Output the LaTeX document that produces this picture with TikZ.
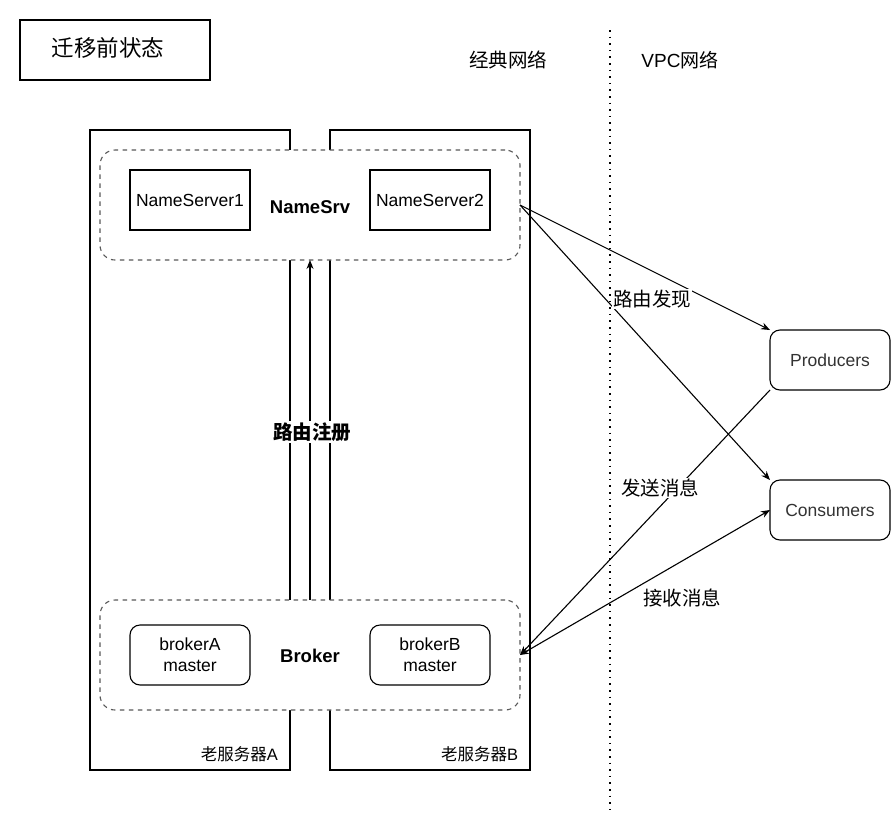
\documentclass[tikz,border=0pt]{standalone}
\usepackage{fontspec}
\setmainfont{Liberation Sans}
\newfontfamily\cjk{Noto Sans CJK SC}
\usetikzlibrary{arrows.meta}
\begin{document}
\begin{tikzpicture}[x=1pt,y=-1pt,
  line width=1.1pt,
  every node/.style={inner sep=0pt,outer sep=0pt},
  body/.style={font=\fontsize{17.5}{21}\selectfont},
  cjklab/.style={font=\cjk\fontsize{19.5}{23}\selectfont},
  server/.style={draw,fill=white},
  grp/.style={draw=black!65,dashed,dash pattern=on 4.5pt off 4.5pt,rounded corners=15pt,fill=white,minimum width=420pt,minimum height=110pt},
  box/.style={draw,fill=white,minimum width=120pt,minimum height=60pt,align=center,body},
  rbox/.style={box,rounded corners=10pt},
  arr/.style={-{Stealth[length=9pt,width=7pt]}},
  darr/.style={{Stealth[length=9pt,width=7pt]}-{Stealth[length=9pt,width=7pt]}}
]
\useasboundingbox (0,0) rectangle (891,814);
% title
\draw (20,20) rectangle (210,80);
\node[font=\cjk\fontsize{22.5}{26}\selectfont] (title) at (108,48) {迁移前状态};
\node[cjklab] (classic) at (508,60) {经典网络};
\node[body] (vpc) at (680,60) {\fontsize{19}{23}\selectfont VPC{\cjk 网络}};
\coordinate (dtop) at (610,30);
\coordinate (dbot) at (610,812);
\draw[line width=1.6pt,dash pattern=on 1.6pt off 5pt] (dtop) -- (dbot);
% servers
\node[server,minimum width=200pt,minimum height=640pt] (srvA) at (190,450) {};
\node[server,minimum width=200pt,minimum height=640pt] (srvB) at (430,450) {};
\node[anchor=south east,font=\fontsize{16.5}{19}\selectfont] (labA) at ([shift={(-12,-8)}]srvA.south east) {{\cjk 老服务器}A};
\node[anchor=south east,font=\fontsize{16.5}{19}\selectfont] (labB) at ([shift={(-12,-8)}]srvB.south east) {{\cjk 老服务器}B};
% groups
\node[grp] (ns) at (310,205) {};
\node[font=\bfseries\fontsize{18.5}{22}\selectfont] (nslab) at (310,207) {NameSrv};
\node[box] (ns1) at (190,200) {NameServer1};
\node[box] (ns2) at (430,200) {NameServer2};
\node[grp] (br) at (310,655) {};
\node[font=\bfseries\fontsize{18.5}{22}\selectfont] (brlab) at (310,656) {Broker};
\node[rbox] (bA) at (190,655) {brokerA\\master};
\node[rbox] (bB) at (430,655) {brokerB\\master};
% registration
\draw[arr] (br.north) -- (ns.north |- ns.south);
\node[fill=white,inner sep=2pt,font=\cjk\bfseries\fontsize{19.5}{23}\selectfont] (reg) at (312,432) {路由注册};
% clients
\node[rbox,text=black!80] (prod) at (830,360) {Producers};
\node[rbox,text=black!80] (cons) at (830,510) {Consumers};
\draw[arr] (ns.east) -- (prod.north west);
\draw[arr] (ns.east) -- (cons.north west);
\draw[arr] (prod.south west) -- (br.east);
\draw[darr] (br.east) -- (cons.west);
\node[cjklab,fill=white,inner sep=1pt] (disc) at (652,299) {路由发现};
\node[cjklab,fill=white,inner sep=1pt] (send) at (660,488) {发送消息};
\node[cjklab] (recv) at (682,598) {接收消息};
\end{tikzpicture}
\end{document}
